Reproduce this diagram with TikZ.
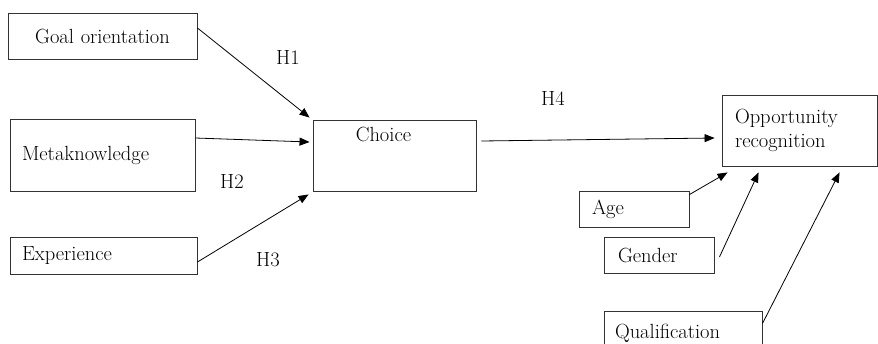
\documentclass[tikz,border=0pt]{standalone}
\usetikzlibrary{arrows.meta}
\begin{document}
\begin{tikzpicture}[x=1pt,y=-1pt,
  every node/.style={font=\fontsize{20.5}{24}\selectfont},
  box/.style={draw=black!80, line width=0.9pt, inner ysep=0pt},
  lbox/.style={box, align=left},
  arr/.style={line width=0.8pt, -{Triangle[length=10pt,width=8pt]}},
  hyp/.style={inner sep=0pt}]
\clip (0,0) rectangle (878,343);
\fill[white] (0,0) rectangle (878,343);
% boxes
\node[box, text width=181pt, inner xsep=4pt, align=center, minimum height=46pt] (goal) at (102.5,36) {Goal orientation};
\node[lbox, text width=161pt, inner xsep=12pt, minimum height=72pt] (meta) at (102.5,155) {Metaknowledge};
\node[lbox, text width=163pt, inner xsep=12pt, minimum height=37pt] (exp) at (103.5,255.5) {Experience};
\node[box, minimum width=163pt, minimum height=71pt, inner sep=0pt] (choice) at (394.5,155.5) {};
\node[hyp] (choicetext) at (383.5,134) {Choice};
\node[lbox, text width=129pt, inner xsep=13pt, minimum height=71pt] (opp) at (799.5,130.5) {Opportunity\\recognition};
\node[lbox, text width=84pt, inner xsep=13pt, minimum height=36pt] (age) at (634,209) {Age};
\node[lbox, text width=82pt, inner xsep=14pt, minimum height=36pt] (gender) at (659,255) {Gender};
\node[lbox, text width=136pt, inner xsep=11pt, minimum height=44pt] (qual) at (683,333) {Qualification};
% hypothesis labels
\node[hyp] (h1) at (288,57) {H1};
\node[hyp] (h2) at (232,181) {H2};
\node[hyp] (h3) at (268,260) {H3};
\node[hyp] (h4) at (553,98) {H4};
% connectors
\draw[arr] ([yshift=8pt]goal.east) -- ([xshift=-3pt,yshift=2pt]choice.north west);
\draw[arr] ([yshift=17pt]meta.east) -- ([xshift=-3pt,yshift=13.5pt]choice.west);
\draw[arr] ([yshift=-6.5pt]exp.east) -- ([xshift=-4pt,yshift=-3pt]choice.south west);
\draw[arr] ([xshift=5pt,yshift=14.5pt]choice.east) -- ([xshift=-7pt,yshift=-7.5pt]opp.west);
\draw[arr] ([yshift=-4pt]age.north east) -- ([xshift=6pt,yshift=-6pt]opp.south west);
\draw[arr] ([xshift=5pt,yshift=-2pt]gender.east) -- ([xshift=37pt,yshift=-6pt]opp.south west);
\draw[arr] ([yshift=-13pt]qual.north east) -- ([xshift=118pt,yshift=-6pt]opp.south west);
\end{tikzpicture}
\end{document}
